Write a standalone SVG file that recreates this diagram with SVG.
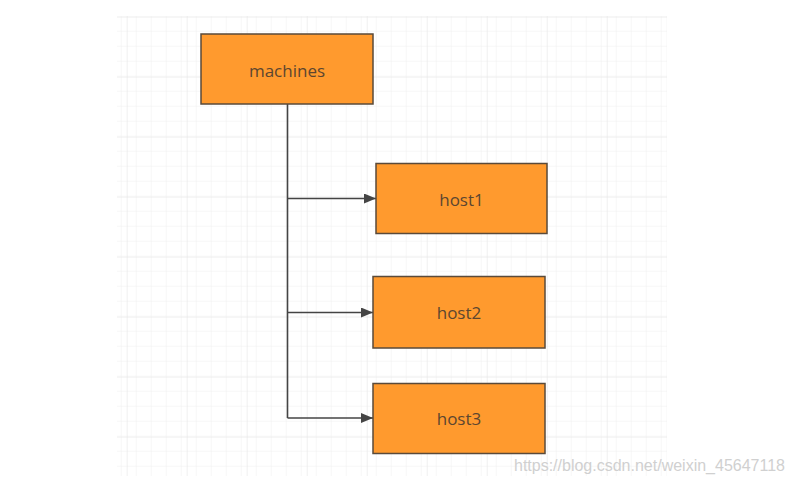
<svg xmlns="http://www.w3.org/2000/svg" width="795" height="484" viewBox="0 0 795 484">
<defs>
<pattern id="minor" x="1.7" y="1.7" width="15" height="15" patternUnits="userSpaceOnUse">
<path d="M15 0V15M0 15H15" fill="none" stroke="#eeeeee" stroke-width="1"/>
</pattern>
<pattern id="major" x="6.7" y="16.7" width="60" height="60" patternUnits="userSpaceOnUse">
<path d="M0 0V60M0 0H60" fill="none" stroke="#e6e6e6" stroke-width="1.2"/>
</pattern>
<marker id="arr" markerWidth="12" markerHeight="10" refX="12" refY="5" orient="auto" markerUnits="userSpaceOnUse">
<path d="M0 0L12 5L0 10Z" fill="#444"/>
</marker>
<style>
.node rect{fill:#ff9a2e;stroke:#5a4a3a;stroke-width:1.5}
.node text{font-family:"Open Sans","Noto Sans",sans-serif;font-size:17px;fill:#5c4630;text-anchor:middle;dominant-baseline:central}
.edge{fill:none;stroke:#444;stroke-width:1.6}
</style>
</defs>
<rect width="795" height="484" fill="#fff"/>
<rect x="117" y="16" width="550" height="460" fill="url(#minor)"/>
<rect x="117" y="16" width="550" height="460" fill="url(#major)"/>
<g id="connectors">
<path class="edge" d="M287.5 104V418"/>
<path class="edge" d="M287.5 198.5H376" marker-end="url(#arr)"/>
<path class="edge" d="M287.5 312.5H373" marker-end="url(#arr)"/>
<path class="edge" d="M287.5 418H373" marker-end="url(#arr)"/>
</g>
<g id="machines" class="node"><rect x="201" y="34" width="172" height="70"/><text x="287" y="70">machines</text></g>
<g id="host1" class="node"><rect x="376" y="163.5" width="171" height="70"/><text x="461.5" y="199">host1</text></g>
<g id="host2" class="node"><rect x="373" y="276.5" width="172" height="71.5"/><text x="459" y="312">host2</text></g>
<g id="host3" class="node"><rect x="373" y="383.5" width="172" height="70"/><text x="459" y="418">host3</text></g>
<text x="785" y="471" text-anchor="end" font-family="Liberation Sans, Arial, sans-serif" font-size="16" fill="#d0d0d0">https://blog.csdn.net/weixin_45647118</text>
</svg>
